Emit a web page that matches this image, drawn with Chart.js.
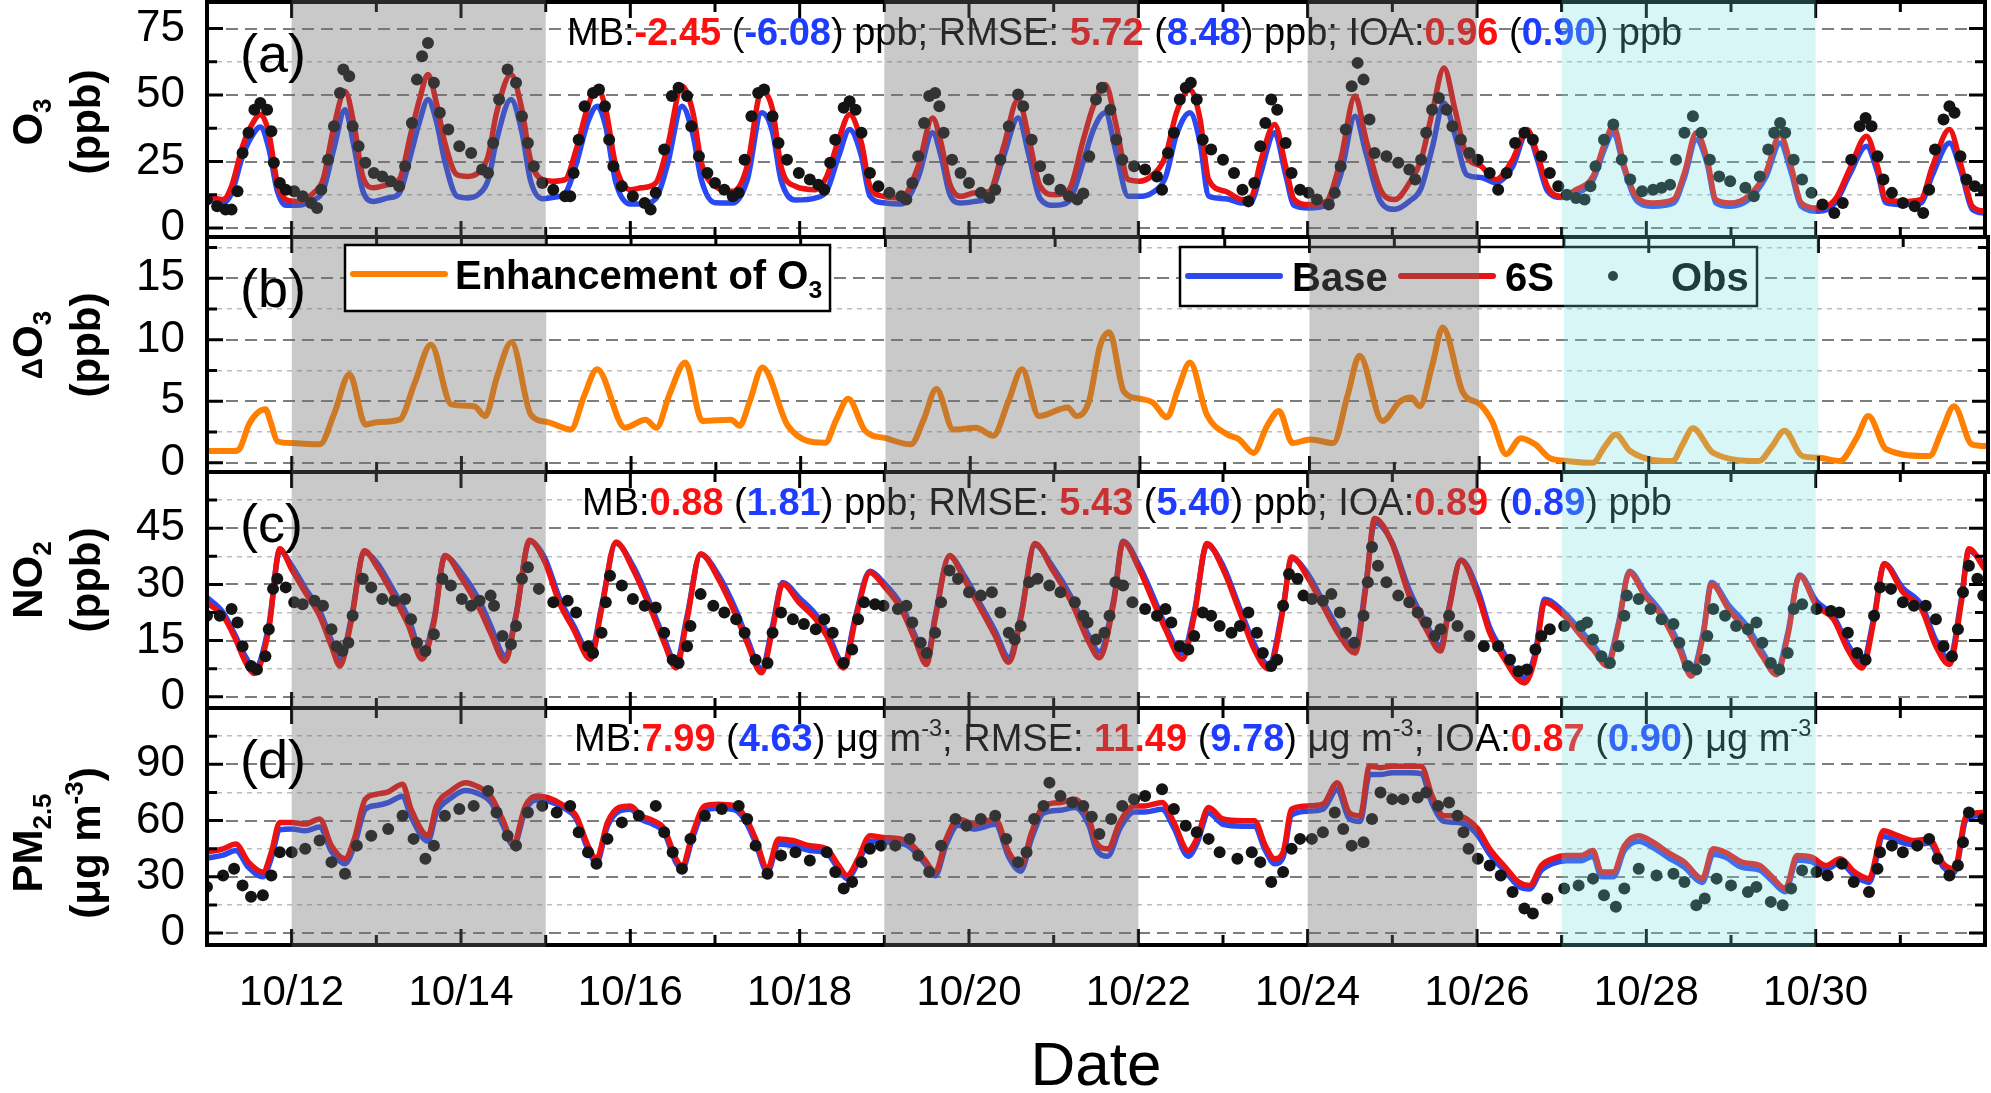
<!DOCTYPE html>
<html>
<head>
<meta charset="utf-8">
<script src="https://cdn.jsdelivr.net/npm/chart.js@4.4.0/dist/chart.umd.min.js"></script>
<style>
  html, body { margin: 0; padding: 0; background: #fff; width: 1991px; height: 1093px; overflow: hidden; }
  canvas { position: absolute; left: 0; }
</style>
</head>
<body>
<canvas id="panelA"></canvas>
<canvas id="panelB"></canvas>
<canvas id="panelC"></canvas>
<canvas id="panelD"></canvas>
<script>
// time axis: days since 10/11 00:00
const xTickLabels = ['', '10/12', '', '10/14', '', '10/16', '', '10/18', '', '10/20', '', '10/22',
  '', '10/24', '', '10/26', '', '10/28', '', '10/30', '', ''];
const grayPeriods = [[1, 4], [8, 11], [13, 15]];
const cyanPeriods = [[16, 19]];

// (a) O3
const o3Time = [
  0, .19, .29, .42, .52, .63, .73, .83, .93,
  1.06, 1.26, 1.37, 1.5, 1.63, 1.74, 1.84, 1.97,
  2.14, 2.27, 2.41, 2.51, 2.61, 2.71, 2.81, 2.95,
  3.08, 3.22, 3.32, 3.42, 3.59, 3.72, 3.82, 3.96,
  4.09, 4.23, 4.36, 4.5, 4.61, 4.71, 4.83,
  5.0, 5.13, 5.3, 5.44, 5.61, 5.74, 5.84,
  6.0, 6.21, 6.38, 6.55, 6.68, 6.78, 6.95,
  7.19, 7.32, 7.46, 7.59, 7.73, 7.83, 7.99,
  8.2, 8.4, 8.57, 8.67, 8.77, 8.9,
  9.07, 9.24, 9.41, 9.58, 9.71, 9.84,
  10.01, 10.18, 10.35, 10.47, 10.61, 10.74, 10.88,
  11.01, 11.15, 11.32, 11.45, 11.61, 11.73, 11.83,
  12.03, 12.23, 12.34, 12.44, 12.61, 12.74, 12.84,
  13.01, 13.22, 13.39, 13.56, 13.69, 13.86,
  14.03, 14.2, 14.34, 14.47, 14.61, 14.74, 14.88,
  15.05, 15.22, 15.42, 15.59, 15.72, 15.83,
  16.0, 16.17, 16.37, 16.51, 16.61, 16.74, 16.88,
  17.08, 17.32, 17.45, 17.59, 17.72, 17.82,
  17.99, 18.2, 18.41, 18.58, 18.71, 18.83,
  19.03, 19.23, 19.4, 19.6, 19.73, 19.83,
  20.03, 20.24, 20.38, 20.58, 20.72, 20.85, 21
];
const o3S6 = [
  11.9, 10.7, 15.7, 30.7, 38.3, 42.7, 35.8, 16.9, 10.7,
  10, 13.2, 18.2, 38.3, 51.4, 38.3, 19.4, 15.1,
  16.3, 18.2, 35.8, 48.3, 57.7, 47, 32, 20.1,
  19.4, 21.3, 27, 43.3, 57.7, 44.5, 25.7, 18.2,
  17.6, 18.2, 29.5, 45.8, 52.7, 44.5, 23.2,
  14.4, 15.1, 16.9, 30.7, 53.3, 43.3, 24.5,
  15.7, 13.8, 23.2, 51.4, 44.5, 23.2, 15.7,
  14.4, 19.4, 33.2, 42.7, 32, 15.7, 11.9,
  11.3, 23.2, 41.4, 32, 16.9, 11.9,
  13.2, 13.8, 30.7, 48.3, 33.2, 15.7,
  12.5, 14.4, 33.2, 46, 54, 38.3, 18.2,
  17.6, 19.4, 27, 43.3, 52.1, 40.8, 18.2,
  13.8, 10.7, 11.9, 24.5, 38.9, 23.2, 10.7,
  8.8, 10, 25.7, 49.6, 33.2, 14.4,
  10.7, 16.9, 25.7, 43.3, 60.2, 44.5, 27,
  23.2, 18.2, 25.7, 37, 27, 15.7,
  11.9, 14.4, 19.4, 32, 38.3, 23.2, 11.9,
  9.4, 10.7, 20.7, 35.8, 25.7, 10.7,
  9.4, 11.9, 20.7, 35.1, 23.2, 9.4,
  7.5, 10.7, 22, 34.5, 23.2, 10.7,
  10, 10.7, 23.2, 37, 23.2, 8.2, 6.3
];
const o3Base = [
  11, 9.5, 13, 27, 34, 38, 30, 14, 8.5,
  8.5, 10.5, 14, 30, 44.5, 30, 14, 10,
  11.3, 13, 28, 40, 48.3, 40, 25, 12,
  11.3, 13, 18, 33, 48.3, 36, 18, 11,
  11.5, 13, 24, 40, 45.8, 38, 17,
  9, 9, 11, 24, 45.8, 35, 18,
  9.5, 9.4, 18, 43.3, 36, 18, 10.5,
  11.3, 14, 27, 37, 27, 12, 9.5,
  9, 19, 35.8, 27, 13, 9.4,
  10, 12, 27, 41.4, 27, 11,
  8.5, 10, 25, 37, 43.3, 28, 11.9,
  11.9, 13, 19, 35, 43.3, 32, 12,
  11, 9.4, 10, 20, 35.8, 20, 8.5,
  7.5, 8.5, 20, 42, 28, 10,
  7, 10, 15, 30, 47, 35, 20,
  19, 17, 23, 35.8, 25, 14,
  11.5, 13, 18, 30, 35.8, 22, 10.5,
  8.2, 9.4, 19, 33.2, 24, 9.5,
  8.2, 10.5, 19, 32, 21, 8.2,
  6.3, 9.4, 20, 30.7, 21, 9.5,
  8.8, 9.4, 20, 32, 21, 7, 5.6
];
const o3ObsTime = [
  0, .12, .22, .29, .36, .42, .49, .56, .63, .71, .76, .79, .86, .93,
  1.03, 1.13, 1.23, 1.3, 1.35, 1.43, 1.5, 1.57, 1.61, 1.68, 1.72, 1.79, 1.87, 1.97,
  2.07, 2.17, 2.27, 2.34, 2.42, 2.48, 2.54, 2.61, 2.68, 2.75, 2.85, 2.98,
  3.12, 3.25, 3.32, 3.38, 3.45, 3.55, 3.65, 3.72, 3.79, 3.86, 3.96,
  4.09, 4.23, 4.29, 4.33, 4.39, 4.46, 4.56, 4.63, 4.7, 4.75, 4.8, 4.9,
  5.03, 5.17, 5.24, 5.3, 5.4, 5.49, 5.57, 5.67, 5.72, 5.81, 5.91,
  6.0, 6.11, 6.21, 6.28, 6.35, 6.43, 6.51, 6.58, 6.68, 6.75, 6.85, 6.99,
  7.12, 7.22, 7.29, 7.36, 7.42, 7.52, 7.59, 7.66, 7.73, 7.83, 7.93,
  8.06, 8.2, 8.26, 8.33, 8.4, 8.47, 8.53, 8.6, 8.65, 8.7, 8.8, 8.9,
  9.0, 9.14, 9.24, 9.31, 9.37, 9.47, 9.58, 9.64, 9.74, 9.84, 9.94,
  10.08, 10.18, 10.28, 10.35, 10.42, 10.5, 10.57, 10.67, 10.74, 10.81, 10.95,
  11.08, 11.22, 11.28, 11.35, 11.42, 11.49, 11.56, 11.62, 11.69, 11.76, 11.86,
  12.0, 12.13, 12.23, 12.3, 12.37, 12.44, 12.5, 12.57, 12.64, 12.74, 12.81, 12.91,
  13.01, 13.11, 13.25, 13.32, 13.39, 13.45, 13.52, 13.59, 13.66, 13.73, 13.79, 13.93,
  14.07, 14.2, 14.27, 14.34, 14.4, 14.47, 14.55, 14.64, 14.71, 14.81, 14.91,
  15.01, 15.15, 15.25, 15.35, 15.45, 15.56, 15.66, 15.76, 15.86, 15.96,
  16.06, 16.17, 16.27, 16.34, 16.4, 16.5, 16.61, 16.71, 16.81, 16.95,
  17.08, 17.18, 17.28, 17.35, 17.45, 17.55, 17.65, 17.75, 17.86, 17.99,
  18.17, 18.27, 18.34, 18.44, 18.51, 18.58, 18.64, 18.74, 18.84, 18.95,
  19.08, 19.22, 19.32, 19.42, 19.52, 19.59, 19.66, 19.73, 19.8, 19.9,
  20.03, 20.17, 20.27, 20.34, 20.41, 20.51, 20.58, 20.64, 20.71, 20.78, 20.88, 20.98
];
const o3Obs = [
  10.7, 8.2, 6.9, 6.9, 13.8, 28.2, 35.8, 44.5, 47, 44.5, 36.4, 24.5, 16.9, 14.4,
  13.8, 11.9, 9.4, 7.5, 14.4, 25.7, 38.3, 50.8, 59.6, 57.1, 38.3, 30.7, 24.5, 20.7,
  19.4, 17.6, 15.7, 23.2, 39.5, 55.8, 64.6, 69.6, 54.6, 43.3, 37, 30.7,
  28.2, 22, 20.7, 32, 48.3, 59.6, 54.6, 42, 32, 23.2, 16.9,
  14.4, 11.9, 11.9, 20.7, 33.2, 45.8, 50.8, 52.1, 45.8, 33.2, 23.2, 15.7,
  11.9, 9.4, 6.9, 13.2, 29.5, 49.6, 52.7, 49.6, 38.3, 27, 20.7,
  16.9, 14.4, 11.9, 13.2, 25.7, 42, 50.8, 52.1, 42, 32, 25.7, 20.7,
  18.2, 16.3, 14.4, 24.5, 33.2, 45.2, 47.7, 44.5, 35.8, 20.7, 15.7,
  13.2, 11.9, 10.7, 16.9, 27, 39.5, 49.6, 50.8, 45.8, 35.8, 25.7, 20.7,
  16.9, 13.2, 11.3, 14.4, 25.7, 38.3, 50.2, 45.8, 33.2, 23.2, 18.2,
  14.4, 11.9, 10.7, 13, 27, 48.3, 52.7, 44.5, 33.2, 25.7, 23.2,
  22, 19.4, 14.4, 28.2, 35.8, 48.3, 52.7, 54.6, 48.3, 33.2, 29.5,
  25.7, 20.7, 14.4, 10, 16.9, 30.7, 39.5, 48.3, 44.5, 32, 20.7, 14.4,
  13.2, 10.7, 8.8, 13.2, 23.2, 37, 53.3, 62.1, 55.8, 40.8, 28.2, 27,
  24.5, 22, 18.2, 25.7, 35.8, 44.5, 48.9, 44.5, 38.3, 33.2, 28.2,
  25.7, 20.7, 14.4, 20.7, 32, 35.8, 33.2, 27, 20.7, 15.7,
  12.5, 11.3, 10.7, 15.7, 23.2, 33.2, 38.9, 25.7, 18.2, 13.8,
  14.4, 15.1, 16.3, 25.7, 35.8, 42, 35.8, 25.7, 19.4, 17.6,
  15.1, 11.9, 19.4, 29.5, 35.8, 39.5, 35.8, 25.7, 18.2, 13.2,
  8.8, 5.6, 9.4, 25.7, 38.3, 41.4, 38.3, 27, 18.2, 13.2,
  9.4, 8.2, 5.6, 14.4, 29.5, 40.8, 45.8, 43.3, 27, 18.2, 15.7, 14.4
];

// (b) O3 enhancement (6S - Base)
const dO3Time = [
  0, .32, .39, .5, .69, .75, .83,
  1.0, 1.33, 1.5, 1.68, 1.87,
  2.0, 2.27, 2.45, 2.64, 2.88,
  3.15, 3.28, 3.42, 3.59, 3.82,
  4.02, 4.29, 4.45, 4.6, 4.93,
  5.17, 5.3, 5.45, 5.64, 5.84,
  6.18, 6.28, 6.4, 6.55, 6.85,
  7.29, 7.42, 7.56, 7.76,
  8.0, 8.3, 8.45, 8.6, 8.8,
  9.07, 9.27, 9.45, 9.61, 9.81,
  10.15, 10.25, 10.4, 10.53, 10.64, 10.81,
  11.0, 11.15, 11.32, 11.45, 11.59, 11.79,
  12.03, 12.17, 12.34, 12.5, 12.64, 12.8,
  13.01, 13.28, 13.45, 13.59, 13.86,
  14.07, 14.2, 14.3, 14.45, 14.57, 14.81,
  15.01, 15.15, 15.32, 15.49, 15.66, 15.83,
  16.03, 16.34, 16.48, 16.61, 16.78,
  17.28, 17.4, 17.52, 17.76,
  18.3, 18.45, 18.6, 18.81,
  19.01, 19.25, 19.45, 19.59, 19.8,
  20.31, 20.45, 20.6, 20.81, 21
];
const dO3 = [
  0.95, 0.95, 1.2, 3.2, 4.35, 3.3, 1.75,
  1.6, 1.5, 4.0, 7.2, 3.1,
  3.3, 3.5, 6.5, 9.6, 4.75,
  4.6, 3.8, 7.0, 9.8, 3.9,
  3.3, 2.7, 5.5, 7.6, 2.85,
  3.5, 2.85, 5.5, 8.15, 3.4,
  3.5, 3.0, 5.0, 7.75, 3.0,
  1.63, 3.5, 5.2, 2.6,
  2.0, 1.5, 3.5, 6.0, 2.7,
  2.85, 2.2, 5.0, 7.6, 3.8,
  4.5, 3.8, 5.0, 9.5, 10.6, 5.8,
  5.2, 4.9, 3.7, 6.0, 8.15, 3.9,
  2.3, 1.9, 0.8, 3.0, 4.2, 1.6,
  1.9, 1.6, 5.5, 8.7, 3.4,
  5.0, 5.3, 4.6, 8.0, 11.0, 5.7,
  4.75, 3.4, 0.7, 2.0, 1.5, 0.4,
  0.15, 0.0, 1.3, 2.3, 0.95,
  0.15, 1.5, 2.8, 0.8,
  0.15, 1.3, 2.6, 0.55,
  0.4, 0.15, 2.0, 3.8, 1.1,
  0.55, 2.5, 4.6, 1.5, 1.35
];

// (c) NO2
const no2Time = [
  0, .19, .32, .46, .56, .73, .86,
  1.0, 1.16, 1.33, 1.47, 1.57, 1.7, 1.86,
  2.0, 2.2, 2.38, 2.54, 2.68, 2.81,
  3.01, 3.22, 3.35, 3.52, 3.65, 3.81,
  3.99, 4.16, 4.33, 4.53, 4.66, 4.83,
  5.03, 5.24, 5.4, 5.54, 5.67, 5.83,
  6.04, 6.25, 6.38, 6.55, 6.68, 6.8,
  6.99, 7.19, 7.32, 7.52, 7.66, 7.83,
  7.99, 8.2, 8.36, 8.5, 8.6, 8.77,
  8.94, 9.14, 9.31, 9.47, 9.61, 9.78,
  9.98, 10.21, 10.42, 10.54, 10.71, 10.82,
  11.01, 11.18, 11.32, 11.52, 11.66, 11.81,
  12.0, 12.2, 12.37, 12.54, 12.71, 12.81,
  13.01, 13.18, 13.38, 13.56, 13.69, 13.79,
  13.99, 14.2, 14.4, 14.57, 14.67, 14.81,
  15.01, 15.15, 15.28, 15.56, 15.69, 15.8,
  16.03, 16.23, 16.37, 16.54, 16.67, 16.8,
  16.98, 17.18, 17.39, 17.53, 17.67, 17.77,
  17.97, 18.2, 18.37, 18.54, 18.67, 18.81,
  19.01, 19.21, 19.38, 19.55, 19.69, 19.81,
  20.03, 20.25, 20.42, 20.58, 20.72, 20.81, 21
];
const no2S6 = [
  25, 21.6, 16.2, 9, 6.2, 18, 39.5,
  34, 27.9, 21.6, 13.5, 8.2, 19.8, 39,
  35, 27, 19, 10, 19.8, 37.7,
  31.5, 23.4, 17, 9.5, 21.6, 41.8,
  36, 25.2, 18, 10, 23.4, 41.3,
  34.1, 23.4, 14.4, 7.7, 20.7, 38.2,
  31.5, 21.6, 14.4, 6.4, 18, 30.1,
  25.2, 20.7, 16.2, 7.7, 20.7, 33.2,
  29.7, 23.4, 15.3, 8.6, 20.7, 37.7,
  31.5, 23.4, 16.2, 9.2, 20.7, 40.9,
  34.1, 25.2, 14.4, 10.4, 25.2, 41.3,
  34.1, 25.2, 18, 10, 21.6, 40.9,
  34.1, 22.5, 12.6, 7.4, 23.4, 37.3,
  31.5, 24.3, 16.2, 11.7, 29.7, 47.6,
  41.3, 27, 18, 12.2, 23.4, 36.4,
  27, 17.1, 11.7, 3.7, 10.8, 25.2,
  21.6, 16.2, 12.6, 8.2, 18.9, 33.2,
  27, 21.6, 12.6, 5.5, 16.2, 30.1,
  23.4, 17.1, 10.8, 5.9, 16.2, 32.3,
  24.3, 20.7, 12.6, 7.7, 20.7, 35.5,
  27.9, 23.4, 13.5, 8.6, 25.2, 39.5, 34
];
const no2Base = [
  26.5, 22.5, 17, 10.5, 7.5, 19, 39,
  35, 29, 23, 15, 9.5, 20.5, 38.5,
  36, 28.5, 21, 11.5, 20.5, 37.5,
  33, 25.5, 19, 11, 22, 41.5,
  37, 26.5, 19, 11.5, 24, 41,
  35, 24.5, 15.5, 9, 21.5, 38,
  32.5, 23, 15.5, 7.5, 19, 30.5,
  26.5, 22, 17.5, 9, 21.5, 33.5,
  30.5, 24.5, 16.5, 10, 21.5, 37.5,
  32.5, 24.5, 17.5, 10.5, 21.5, 40.5,
  35, 26.5, 16, 12, 26, 41.5,
  35, 26.5, 19, 11.5, 22.5, 40.5,
  35, 23.5, 14, 8.5, 24, 37,
  32.5, 25.5, 17.5, 13, 30.5, 46.5,
  41.5, 28.5, 19.5, 13.5, 24, 36.5,
  28.5, 18.5, 13, 5, 12, 26,
  22.5, 17.5, 14, 9.5, 19.5, 33.5,
  28, 22.5, 14, 6.5, 17, 30.5,
  24.5, 18.5, 12, 7, 17, 32.5,
  25.5, 21.5, 14, 9, 21.5, 35.5,
  29, 24.5, 15, 10, 26, 39, 35
];
const no2ObsTime = [
  0, .15, .29, .36, .42, .52, .59, .69, .73, .78, .83, .93,
  1.03, 1.13, 1.27, 1.37, 1.47, 1.53, 1.6, 1.67, 1.72, 1.84, 1.94,
  2.07, 2.21, 2.34, 2.41, 2.48, 2.58, 2.68, 2.78, 2.88,
  3.01, 3.12, 3.22, 3.35, 3.39, 3.49, 3.59, 3.65, 3.72, 3.79, 3.92,
  4.09, 4.26, 4.36, 4.5, 4.56, 4.66, 4.71, 4.76, 4.9,
  5.03, 5.17, 5.3, 5.4, 5.5, 5.57, 5.67, 5.71, 5.83, 5.98,
  6.11, 6.25, 6.35, 6.48, 6.62, 6.68, 6.78, 6.92,
  7.05, 7.19, 7.29, 7.39, 7.52, 7.62, 7.69, 7.76, 7.89, 7.99,
  8.16, 8.26, 8.33, 8.43, 8.5, 8.6, 8.67, 8.77, 8.87,
  9.0, 9.14, 9.27, 9.37, 9.47, 9.54, 9.61, 9.71, 9.81, 9.95,
  10.08, 10.25, 10.35, 10.4, 10.5, 10.6, 10.66, 10.73, 10.82, 10.93,
  11.08, 11.22, 11.32, 11.39, 11.49, 11.59, 11.66, 11.76, 11.86, 11.96,
  12.1, 12.2, 12.3, 12.4, 12.47, 12.57, 12.64, 12.71, 12.78, 12.88, 12.95,
  13.05, 13.18, 13.28, 13.38, 13.45, 13.55, 13.66, 13.71, 13.76, 13.83, 13.93,
  14.07, 14.2, 14.3, 14.4, 14.5, 14.57, 14.67, 14.77, 14.91,
  15.08, 15.25, 15.39, 15.49, 15.59, 15.69, 15.76, 15.86,
  16.03, 16.23, 16.3, 16.37, 16.47, 16.57, 16.67, 16.74, 16.77, 16.91,
  17.05, 17.18, 17.32, 17.39, 17.49, 17.59, 17.69, 17.72, 17.79, 17.93,
  18.06, 18.2, 18.3, 18.37, 18.47, 18.57, 18.67, 18.74, 18.84,
  19.01, 19.18, 19.28, 19.38, 19.49, 19.59, 19.69, 19.76, 19.89,
  20.03, 20.16, 20.3, 20.42, 20.51, 20.61, 20.68, 20.74, 20.81, 20.91, 20.98
];
const no2Obs = [
  21.6, 21.6, 23.4, 19.8, 13.5, 8.2, 7.3, 10.8, 18, 28.8, 31.5, 29.2,
  25.2, 24.7, 25.6, 24.3, 18, 13.5, 12.2, 14.4, 21.6, 31.5, 29.2,
  26.1, 25.6, 26.1, 20.7, 14.4, 12.2, 16.7, 31.5, 29.7,
  26.1, 24.3, 25.6, 27, 24.3, 16.2, 14, 18.9, 31.5, 34.6, 28.8,
  25.2, 25.6, 22.5, 13.5, 11.7, 17.1, 25.2, 32.3, 29.7,
  26.1, 24.3, 23.8, 17.1, 9.9, 9, 13.5, 18.9, 27.4, 24.3,
  22.5, 20.7, 17.1, 9.9, 9, 17.1, 22.5, 20.7,
  19.4, 18, 20.7, 17.1, 9, 12.6, 20.7, 25.2, 24.7, 24.3,
  23.4, 24.3, 19.8, 14.4, 11.7, 17.1, 25.2, 33.7, 31.5,
  27.9, 27, 27.9, 22.5, 17.1, 15.3, 18.9, 30.6, 31.5, 29.7,
  27.9, 25.2, 21.6, 19.8, 15.3, 17.1, 21.6, 30.6, 29.7, 25.2,
  23.4, 21.6, 23.4, 19.8, 13.5, 12.6, 16.2, 22.5, 21.6, 18.9,
  17.1, 18.9, 22.5, 17.1, 11.7, 8.2, 9.9, 24.3, 32.8, 31.5, 27,
  26.1, 25.6, 27.4, 22.5, 17.1, 14.4, 21.6, 30.6, 40, 35, 30.6,
  27, 25.2, 22.5, 19.8, 16.2, 18, 21.6, 18.9, 16.2,
  13.5, 13.5, 9.9, 6.8, 7.3, 12.6, 16.2, 18,
  18.9, 18.9, 19.8, 15.3, 10.8, 9, 13.5, 21.6, 27, 26.1,
  23.4, 20.7, 19.4, 14.4, 8.2, 7.3, 9.9, 16.2, 23.4, 21.6,
  18.9, 18, 19.8, 14.4, 9, 7.3, 11.7, 23.4, 24.7,
  23.4, 22.9, 22.5, 17.1, 11.7, 9.9, 21.6, 29.2, 28.8,
  25.2, 24.3, 24.3, 20.7, 13.5, 10.8, 18, 27.9, 35, 31.5, 27
];

// (d) PM2.5
const pmTime = [
  0, .19, .34, .49, .66, .76, .86,
  1.0, 1.16, 1.33, 1.47, 1.63, 1.74, 1.87,
  2.0, 2.14, 2.31, 2.41, 2.61, 2.71, 2.88,
  3.05, 3.22, 3.35, 3.49, 3.62, 3.76, 3.89,
  4.02, 4.22, 4.36, 4.5, 4.6, 4.73, 4.87,
  5.0, 5.13, 5.27, 5.4, 5.54, 5.61, 5.74, 5.88,
  6.04, 6.24, 6.38, 6.48, 6.62, 6.75, 6.92,
  7.12, 7.32, 7.46, 7.56, 7.69, 7.83,
  7.99, 8.26, 8.47, 8.6, 8.73, 8.87,
  9.07, 9.31, 9.47, 9.61, 9.74, 9.88,
  10.08, 10.25, 10.42, 10.5, 10.64, 10.78, 10.95,
  11.08, 11.28, 11.42, 11.59, 11.69, 11.83,
  12.0, 12.23, 12.37, 12.5, 12.61, 12.71, 12.81,
  13.01, 13.18, 13.35, 13.49, 13.62, 13.73, 13.86,
  14.0, 14.2, 14.34, 14.47, 14.61, 14.74, 14.88,
  15.01, 15.15, 15.35, 15.49, 15.62, 15.76, 15.89,
  16.06, 16.23, 16.37, 16.47, 16.61, 16.74, 16.91,
  17.08, 17.25, 17.45, 17.66, 17.79, 17.93,
  18.13, 18.34, 18.47, 18.64, 18.78, 18.95,
  19.12, 19.29, 19.46, 19.63, 19.8, 19.97,
  20.17, 20.34, 20.51, 20.64, 20.78, 21
];
const pmS6 = [
  43.1, 44.9, 47.5, 37.8, 32.5, 43.1, 59,
  59, 58.1, 60.8, 46.6, 39.6, 50.2, 71.4,
  74, 75.3, 79.3, 66.1, 51.9, 67.8, 75.8,
  80.2, 77.6, 73.1, 60.8, 48.4, 67.8, 73.1,
  72.3, 67.8, 62.5, 46.6, 39.6, 59, 67,
  67.8, 62.5, 59.9, 55.5, 39.6, 36, 53.7, 67.8,
  68.7, 67.8, 59.9, 50.2, 34.3, 50.2, 49.3,
  46.6, 44.9, 36, 30.7, 39.6, 51.9,
  51, 49.3, 39.6, 32.5, 50.2, 60.8,
  58.1, 60.8, 43.1, 36, 53.7, 67.8,
  69.6, 71.4, 60.8, 48.4, 44.9, 59, 67.8,
  67.8, 69.6, 59, 44, 50.2, 67,
  60.8, 59.9, 59.9, 46.6, 39.6, 43.1, 66.1,
  67.8, 68.7, 80.2, 64.3, 62.5, 89, 88.2,
  89, 89, 89, 73.1, 62.5, 62.5, 60.8,
  55.5, 44.9, 34.3, 27.2, 25.4, 36, 39.6,
  41.3, 41.3, 44, 32.5, 32.5, 46.6, 51.9,
  48.4, 43.1, 37.8, 29, 44.9, 43.1,
  37.8, 36, 30.7, 23.7, 41.3, 40.5,
  36, 39.6, 32.5, 29, 54.6, 51.9,
  49.3, 50.2, 36.9, 34.3, 62.5, 64.3
];
const pmBase = [
  40, 41.5, 44, 35, 30, 40, 55,
  55.5, 54.5, 56.5, 43.5, 37, 46.5, 66,
  68, 69.5, 73, 62, 49, 64, 72,
  76, 74, 70, 58, 46.5, 65.5, 71,
  70.5, 66.5, 61, 44.5, 37.5, 57, 65,
  66, 60.5, 58, 53.5, 37.5, 34, 51.5, 65.5,
  66.5, 65.5, 58, 48, 32.5, 47.5, 46.5,
  44, 42.5, 34, 29, 37.5, 49,
  48.5, 47, 37.5, 30.5, 47, 57.5,
  55.5, 58, 40.5, 33, 50.5, 64,
  65.5, 67, 57, 45, 41, 55.5, 64.5,
  64.5, 66, 56, 41, 47.5, 64,
  58, 57, 57, 44, 37, 40.5, 63,
  65, 66, 76.5, 61, 59.5, 84.5, 84.5,
  85.5, 85.5, 85, 69, 59.5, 59, 57.5,
  52, 42, 32, 25, 23.5, 33.5, 37,
  38.5, 38.5, 41, 30, 30, 44, 49,
  45.5, 40.5, 35, 27, 42, 40.5,
  35, 33.5, 28.5, 22, 39, 38,
  34, 37.5, 30.5, 27, 51.5, 49,
  47, 48, 35, 32.5, 60.5, 63
];
const pmObsTime = [
  0, .19, .32, .42, .52, .66, .76, .86,
  1.0, 1.16, 1.33, 1.47, 1.63, 1.77, 1.94,
  2.14, 2.31, 2.44, 2.58, 2.68, 2.81, 2.98,
  3.15, 3.32, 3.42, 3.55, 3.65, 3.79, 3.96,
  4.13, 4.29, 4.39, 4.5, 4.6, 4.73, 4.9,
  5.1, 5.3, 5.4, 5.5, 5.61, 5.71, 5.88,
  6.08, 6.28, 6.38, 6.48, 6.62, 6.78, 6.95,
  7.12, 7.32, 7.42, 7.52, 7.62, 7.73, 7.83, 7.96,
  8.13, 8.3, 8.4, 8.53, 8.67, 8.84, 8.97,
  9.14, 9.31, 9.44, 9.58, 9.68, 9.77, 9.88, 9.95,
  10.08, 10.22, 10.35, 10.45, 10.54, 10.68, 10.81, 10.95,
  11.08, 11.28, 11.42, 11.56, 11.69, 11.83, 11.96,
  12.17, 12.34, 12.44, 12.57, 12.71, 12.81, 12.91,
  13.05, 13.18, 13.32, 13.42, 13.52, 13.66, 13.76, 13.86,
  14.0, 14.13, 14.3, 14.4, 14.54, 14.67, 14.77, 14.84, 14.9,
  15.01, 15.15, 15.28, 15.42, 15.56, 15.66, 15.83,
  16.03, 16.2, 16.37, 16.5, 16.64, 16.74, 16.91,
  17.12, 17.32, 17.45, 17.59, 17.69, 17.83,
  18.0, 18.2, 18.3, 18.47, 18.61, 18.71, 18.84,
  19.01, 19.14, 19.31, 19.45, 19.63, 19.73, 19.76, 19.9,
  20.03, 20.2, 20.34, 20.44, 20.58, 20.68, 20.74, 20.81, 20.98
];
const pmObs = [
  24.6, 30.7, 34.3, 25.4, 19.3, 20.1, 30.7, 43.1,
  43.1, 44.9, 49.3, 37.8, 31.6, 46.6, 51.9,
  55.5, 62.5, 50.2, 39.6, 46.6, 62.5, 66.1,
  67.8, 75.8, 64.3, 51.9, 46.6, 64.3, 67.8,
  64.3, 67.8, 53.7, 43.1, 36.9, 50.2, 59,
  62.5, 67.8, 53.7, 43.1, 34.3, 50.2, 62.5,
  66.1, 67.8, 60.8, 46.6, 31.6, 41.3, 43.1,
  38.7, 43.1, 32.5, 23.7, 27.2, 37.8, 44.9, 46.6,
  46.6, 50.2, 41.3, 32.5, 46.6, 60.8, 57.2,
  60.8, 62.5, 50.2, 37.8, 43.1, 60.8, 67.8, 80.2,
  73.1, 69.6, 67.8, 62, 52.8, 60.8, 67.8, 71.4,
  73.1, 76.7, 66.1, 57.2, 53.7, 50.2, 43.1,
  39.6, 43.1, 37.8, 27.2, 32.5, 44.9, 50.2,
  50.2, 53.7, 64.3, 55.5, 46.6, 48.4, 60.8, 74.9,
  71.4, 71.4, 72.3, 74.9, 67.8, 69.6, 62.5, 53.7, 44.9,
  39.6, 36, 30.7, 21.9, 13.1, 10.4, 18.4,
  23.7, 25.4, 29, 20.1, 14, 23.7, 34.3,
  30.7, 31.6, 27.2, 14.8, 18.4, 29,
  25.4, 21.9, 24.6, 16.6, 14.8, 23.7, 33.4,
  32.5, 30.7, 36.9, 27.2, 21.9, 34.3, 43.1, 46.6,
  43.1, 46.6, 50.2, 39.6, 30.7, 36, 48.4, 64.3, 60.8
];

// statistics shown in the panels: MB, RMSE, IOA for 6S (Base)
const statsO3 = ['-2.45', '-6.08', '5.72', '8.48', '0.96', '0.90'];
const statsNO2 = ['0.88', '1.81', '5.43', '5.40', '0.89', '0.89'];
const statsPM = ['7.99', '4.63', '11.49', '9.78', '0.87', '0.90'];

const FONT = '"Liberation Sans", Arial, Helvetica, sans-serif';
const W = 1991, PLOT_L = 207, PLOT_R = 1988, PAD = 12;
const edges = [2, 237, 472, 708, 945];
const RED = '#ee1111', BLUE = '#2b49f0', ORANGE = '#ff8000', DOT = '#141414';

function pts(t, v) { return t.map((x, i) => ({ x: x, y: v[i] })); }
function lineSet(t, v, color, w, order) {
  return { data: pts(t, v), borderColor: color, backgroundColor: color, borderWidth: w,
    pointRadius: 0, cubicInterpolationMode: 'monotone', fill: false, order: order };
}
function dotSet(t, v) {
  return { data: pts(t, v), showLine: false, pointRadius: 6, pointBorderWidth: 0,
    pointBackgroundColor: DOT, borderColor: DOT, backgroundColor: DOT, order: 0 };
}

function drawRich(ctx, x, y, parts, size) {
  for (const p of parts) {
    let fs = size, dy = 0;
    if (p.s === 'sub') { fs = size * 0.62; dy = size * 0.22; }
    if (p.s === 'sup') { fs = size * 0.62; dy = -size * 0.4; }
    if (p.s === 'small') { fs = size * 0.7; }
    ctx.font = (p.b ? 'bold ' : '') + fs + 'px ' + FONT;
    ctx.fillStyle = p.c || '#000';
    ctx.fillText(p.t, x, y + dy);
    x += ctx.measureText(p.t).width;
  }
  return x;
}
function richWidth(ctx, parts, size) {
  let w = 0;
  for (const p of parts) {
    const fs = p.s ? size * (p.s === 'small' ? 0.7 : 0.62) : size;
    ctx.font = (p.b ? 'bold ' : '') + fs + 'px ' + FONT;
    w += ctx.measureText(p.t).width;
  }
  return w;
}
function statParts(s, unit) {
  const r = t => ({ t: t, c: '#ff1010', b: true });
  const b = t => ({ t: t, c: '#1e3cff', b: true });
  const k = t => ({ t: t });
  return [k('MB:'), r(s[0]), k(' ('), b(s[1]), k(')'), ...unit, k('; RMSE: '), r(s[2]), k(' ('), b(s[3]), k(')'),
    ...unit, k('; IOA:'), r(s[4]), k(' ('), b(s[5]), k(')'), ...unit];
}
const ppb = [{ t: ' ppb' }];
const ugm3 = [{ t: ' μg m' }, { t: '-3', s: 'sup' }];

function isMajor(v, step) { const q = v / step; return Math.abs(q - Math.round(q)) < 1e-6; }

const deco = {
  id: 'deco',
  afterDatasetsDraw(chart) {
    const cfg = chart.$cfg;
    if (!cfg) return;
    const ctx = chart.ctx, a = chart.chartArea;
    const xs = chart.scales.x, ys = chart.scales.y;
    ctx.save();
    ctx.textBaseline = 'alphabetic';
    if (cfg.stats) drawRich(ctx, cfg.statsX, a.top + 43, cfg.stats, 38);
    if (cfg.legend) {
      // model / obs legend (sits under the shading)
      const lx = 1180, ly = a.top + 10;
      ctx.fillStyle = '#fff'; ctx.fillRect(lx, ly, 577, 59);
      ctx.strokeStyle = '#000'; ctx.lineWidth = 2.5; ctx.strokeRect(lx, ly, 577, 59);
      ctx.lineCap = 'round'; ctx.lineWidth = 6;
      ctx.strokeStyle = BLUE; ctx.beginPath(); ctx.moveTo(1188, a.top + 39); ctx.lineTo(1280, a.top + 39); ctx.stroke();
      ctx.strokeStyle = RED; ctx.beginPath(); ctx.moveTo(1401, a.top + 39); ctx.lineTo(1493, a.top + 39); ctx.stroke();
      ctx.fillStyle = DOT; ctx.beginPath(); ctx.arc(1613, a.top + 39, 5, 0, Math.PI * 2); ctx.fill();
      drawRich(ctx, 1292, a.top + 54, [{ t: 'Base', b: true }], 40);
      drawRich(ctx, 1505, a.top + 54, [{ t: '6S', b: true }], 40);
      drawRich(ctx, 1671, a.top + 54, [{ t: 'Obs', b: true }], 40);
    }
    // frame
    ctx.lineCap = 'butt';
    ctx.strokeStyle = '#000'; ctx.lineWidth = 4;
    ctx.strokeRect(a.left, a.top, a.right - a.left, a.bottom - a.top);
    // inward ticks
    ctx.lineWidth = 3; ctx.beginPath();
    ys.ticks.forEach(t => {
      const py = ys.getPixelForValue(t.value);
      const len = isMajor(t.value, cfg.major) ? 16 : 10;
      ctx.moveTo(a.left, py); ctx.lineTo(a.left + len, py);
      ctx.moveTo(a.right, py); ctx.lineTo(a.right - len, py);
    });
    for (let d = 1; d < 21; d++) {
      const px = xs.getPixelForValue(d);
      const len = xTickLabels[d] ? 16 : 10;
      ctx.moveTo(px, a.top); ctx.lineTo(px, a.top + len);
      ctx.moveTo(px, a.bottom); ctx.lineTo(px, a.bottom - len);
    }
    ctx.stroke();
    // shaded periods drawn over everything in the panel
    const shade = (list, color) => {
      ctx.fillStyle = color;
      list.forEach(([s, e]) => {
        const x0 = xs.getPixelForValue(s), x1 = xs.getPixelForValue(e);
        ctx.fillRect(x0, a.top - 2, x1 - x0, a.bottom - a.top + 4);
      });
    };
    shade(grayPeriods, 'rgba(108,108,108,0.37)');
    shade(cyanPeriods, 'rgba(110,222,222,0.27)');
    ctx.restore();
  },
  afterDraw(chart) {
    const cfg = chart.$cfg;
    if (!cfg) return;
    const ctx = chart.ctx, a = chart.chartArea;
    ctx.save();
    ctx.textBaseline = 'alphabetic';
    if (cfg.legendTop) {
      const lx = 345, ly = a.top + 8;
      ctx.fillStyle = '#fff'; ctx.fillRect(lx, ly, 485, 66);
      ctx.strokeStyle = '#000'; ctx.lineWidth = 2.5; ctx.strokeRect(lx, ly, 485, 66);
      ctx.strokeStyle = ORANGE; ctx.lineWidth = 6; ctx.lineCap = 'round';
      ctx.beginPath(); ctx.moveTo(353, a.top + 37); ctx.lineTo(445, a.top + 37); ctx.stroke();
      drawRich(ctx, 455, a.top + 52, [{ t: 'Enhancement of O', b: true }, { t: '3', b: true, s: 'sub' }], 40);
    }
    // panel letter
    ctx.font = '54px ' + FONT; ctx.fillStyle = '#000';
    ctx.fillText(cfg.letter, 240, a.top + 70);
    // rotated two-line axis title
    const cy = cfg.titleY - chart.$cTop;
    cfg.title.forEach((parts, i) => {
      const bx = i === 0 ? 42 : 100;
      ctx.save();
      ctx.translate(bx, cy);
      ctx.rotate(-Math.PI / 2);
      const w = richWidth(ctx, parts, 42);
      drawRich(ctx, -w / 2, 0, parts, 42);
      ctx.restore();
    });
    ctx.restore();
  }
};

function makePanel(idx, cfg) {
  const top = edges[idx], bot = edges[idx + 1];
  const last = idx === 3;
  const cTop = top - PAD;
  const cH = last ? 1093 - cTop : (bot - top) + 2 * PAD;
  const cv = document.getElementById(cfg.id);
  cv.width = W; cv.height = cH;
  cv.style.width = W + 'px'; cv.style.height = cH + 'px'; cv.style.top = cTop + 'px';
  const chart = new Chart(cv, {
    type: 'line',
    data: { datasets: cfg.datasets },
    options: {
      responsive: false, animation: false, devicePixelRatio: 1,
      layout: { padding: { top: PAD, bottom: last ? 0 : PAD, left: 0, right: W - PLOT_R } },
      plugins: { legend: { display: false }, tooltip: { enabled: false } },
      scales: {
        x: {
          type: 'linear', min: 0, max: 21, display: last,
          afterFit: s => {
            if (last) s.height = 1093 - 945;
            s.paddingLeft = 0; s.paddingRight = 0;
          },
          grid: { display: false }, border: { display: false },
          ticks: { stepSize: 1, autoSkip: false, maxRotation: 0, minRotation: 0, padding: 15, color: '#000',
            font: { family: FONT, size: 42 }, callback: v => xTickLabels[v] || '' },
          title: { display: true, text: 'Date', color: '#000', padding: { top: 0, bottom: 0 },
            font: { family: FONT, size: 62, lineHeight: 0.8 } }
        },
        y: {
          min: cfg.yMin, max: cfg.yMax,
          afterFit: s => { s.width = PLOT_L; s.paddingTop = 0; s.paddingBottom = 0; },
          border: { display: false, dash: c => (c.tick && isMajor(c.tick.value, cfg.major)) ? [12, 7] : [5, 5] },
          grid: { drawTicks: false,
            color: c => (c.tick && isMajor(c.tick.value, cfg.major)) ? '#7d7d7d' : '#bcbcbc',
            lineWidth: c => (c.tick && isMajor(c.tick.value, cfg.major)) ? 2 : 1.5 },
          ticks: { stepSize: cfg.minor, autoSkip: false, includeBounds: false, padding: 22, color: '#000',
            font: { family: FONT, size: 44 },
            callback: v => (isMajor(v, cfg.major) && v <= cfg.labelMax) ? String(v) : '' }
        }
      }
    },
    plugins: [deco]
  });
  chart.$cfg = cfg; chart.$cTop = cTop;
  chart.draw();
  return chart;
}

const panels = [
  { id: 'panelA', letter: '(a)', yMin: -3.4, yMax: 85, minor: 12.5, major: 25, labelMax: 75,
    stats: statParts(statsO3, ppb), statsX: 567, titleY: 122,
    title: [[{ t: 'O', b: true }, { t: '3', b: true, s: 'sub' }], [{ t: '(ppb)', b: true }]],
    datasets: [lineSet(o3Time, o3Base, BLUE, 5.5, 2), lineSet(o3Time, o3S6, RED, 5.5, 1), dotSet(o3ObsTime, o3Obs)] },
  { id: 'panelB', letter: '(b)', yMin: -0.75, yMax: 18.35, minor: 2.5, major: 5, labelMax: 15,
    legend: true, legendTop: true, titleY: 345,
    title: [[{ t: 'Δ', b: true, s: 'small' }, { t: 'O', b: true }, { t: '3', b: true, s: 'sub' }], [{ t: '(ppb)', b: true }]],
    datasets: [lineSet(dO3Time, dO3, ORANGE, 6, 1)] },
  { id: 'panelC', letter: '(c)', yMin: -3, yMax: 60, minor: 7.5, major: 15, labelMax: 45,
    stats: statParts(statsNO2, ppb), statsX: 582, titleY: 580,
    title: [[{ t: 'NO', b: true }, { t: '2', b: true, s: 'sub' }], [{ t: '(ppb)', b: true }]],
    datasets: [lineSet(no2Time, no2Base, BLUE, 5.5, 2), lineSet(no2Time, no2S6, RED, 5.5, 1), dotSet(no2ObsTime, no2Obs)] },
  { id: 'panelD', letter: '(d)', yMin: -6.4, yMax: 120, minor: 15, major: 30, labelMax: 90,
    stats: statParts(statsPM, ugm3), statsX: 574, titleY: 843,
    title: [[{ t: 'PM', b: true }, { t: '2.5', b: true, s: 'sub' }],
      [{ t: '(μg m', b: true }, { t: '-3', b: true, s: 'sup' }, { t: ')', b: true }]],
    datasets: [lineSet(pmTime, pmBase, BLUE, 5.5, 2), lineSet(pmTime, pmS6, RED, 5.5, 1), dotSet(pmObsTime, pmObs)] }
];

panels.forEach((p, i) => makePanel(i, p));
</script>
</body>
</html>
